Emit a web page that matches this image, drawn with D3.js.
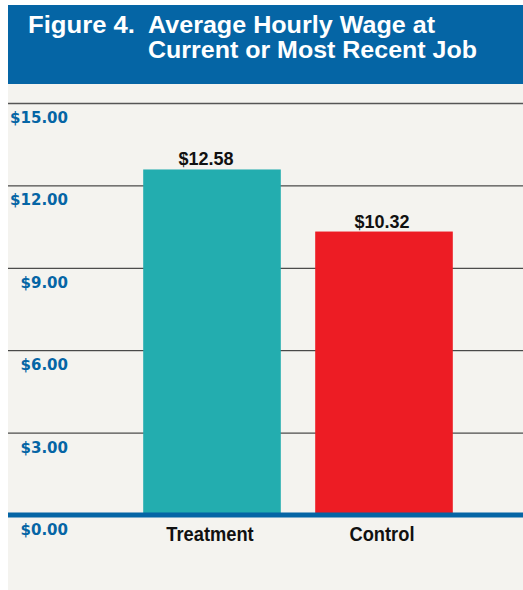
<!DOCTYPE html>
<html>
<head>
<meta charset="utf-8">
<script src="https://cdn.jsdelivr.net/npm/d3@7"></script>
<style>
  body { margin: 0; background: #ffffff; }
</style>
</head>
<body>
<div id="chart"></div>
<script>
// chart data
const CATEGORIES = ["Treatment", "Control"];
const WAGES = [12.58, 10.32];
const TICKS = [0, 3, 6, 9, 12, 15];
const COLORS = ["#23adaf", "#ed1c24"];

// frame and panel
const FRAME_WIDTH = 523;
const FRAME_HEIGHT = 590;
const PANEL = {left: 8, top: 5, right: 523, titleBottom: 84};
const PLOT = {left: 126, right: 470, top: 103, bottom: 515};

const svg = d3.select("#chart")
  .append("svg")
    .attr("width", FRAME_WIDTH)
    .attr("height", FRAME_HEIGHT);

// squeeze text horizontally by a factor (condensed look)
function condense(sel, k) {
  sel.each(function() {
    const w = this.getComputedTextLength();
    d3.select(this)
      .attr("textLength", w * k)
      .attr("lengthAdjust", "spacingAndGlyphs");
  });
}

// beige background
svg.append("rect")
  .attr("x", PANEL.left)
  .attr("y", PANEL.top)
  .attr("width", PANEL.right - PANEL.left)
  .attr("height", FRAME_HEIGHT - PANEL.top)
  .attr("fill", "#f4f3ef");

// title band
svg.append("rect")
  .attr("x", PANEL.left)
  .attr("y", PANEL.top)
  .attr("width", PANEL.right - PANEL.left)
  .attr("height", PANEL.titleBottom - PANEL.top)
  .attr("fill", "#0565a5");

const title = svg.append("g")
  .attr("font-family", "'Liberation Sans', Arial, sans-serif")
  .attr("font-weight", "bold")
  .attr("font-size", "23px")
  .attr("fill", "#ffffff");
title.append("text").attr("x", 28).attr("y", 33)
  .attr("textLength", 107).attr("lengthAdjust", "spacingAndGlyphs")
  .text("Figure 4.");
title.append("text").attr("x", 148).attr("y", 33)
  .attr("textLength", 287).attr("lengthAdjust", "spacingAndGlyphs")
  .text("Average Hourly Wage at");
title.append("text").attr("x", 148).attr("y", 58)
  .attr("textLength", 329).attr("lengthAdjust", "spacingAndGlyphs")
  .text("Current or Most Recent Job");

// scales
const Y = d3.scaleLinear()
  .domain([0, 15])
  .range([PLOT.bottom, PLOT.top]);

const X = d3.scaleBand()
  .domain(CATEGORIES)
  .range([PLOT.left, PLOT.right])
  .paddingInner(0.2)
  .paddingOuter(0.1);

// gridlines + y labels
const yAxis = svg.append("g");
yAxis.selectAll("line")
  .data(TICKS.filter(d => d > 0))
  .enter()
  .append("line")
    .attr("x1", PANEL.left)
    .attr("x2", PANEL.right)
    .attr("y1", d => Y(d) + 0.5)
    .attr("y2", d => Y(d) + 0.5)
    .attr("stroke", d => d === 15 ? "#555" : "#222")
    .attr("stroke-width", d => d === 15 ? 1.5 : 1);

yAxis.selectAll("text")
  .data(TICKS)
  .enter()
  .append("text")
    .attr("x", 68)
    .attr("y", d => Y(d) + 20)
    .attr("text-anchor", "end")
    .attr("font-family", "'DejaVu Sans', Verdana, sans-serif")
    .attr("font-weight", "bold")
    .attr("font-size", "15px")
    .attr("fill", "#0565a5")
    .text(d => "$" + d3.format(".2f")(d));

// bars
svg.selectAll(".bar")
  .data(WAGES)
  .enter()
  .append("rect")
    .attr("class", "bar")
    .attr("x", (d, i) => X(CATEGORIES[i]))
    .attr("y", d => Y(d))
    .attr("width", X.bandwidth())
    .attr("height", d => Y(0) - Y(d))
    .attr("fill", (d, i) => COLORS[i]);

// value labels
svg.selectAll(".value")
  .data(WAGES)
  .enter()
  .append("text")
    .attr("class", "value")
    .attr("x", (d, i) => X(CATEGORIES[i]) + X.bandwidth() / 2 - (i === 0 ? 6 : 2))
    .attr("y", d => Y(d) - 4)
    .attr("text-anchor", "middle")
    .attr("font-family", "'Liberation Sans', Arial, sans-serif")
    .attr("font-weight", "bold")
    .attr("font-size", "18px")
    .attr("fill", "#111")
    .text(d => "$" + d3.format(".2f")(d));

// baseline
svg.append("line")
  .attr("x1", PANEL.left)
  .attr("x2", PANEL.right)
  .attr("y1", Y(0))
  .attr("y2", Y(0))
  .attr("stroke", "#0565a5")
  .attr("stroke-width", 5);

// category labels
svg.selectAll(".cat")
  .data(CATEGORIES)
  .enter()
  .append("text")
    .attr("class", "cat")
    .attr("x", d => X(d) + X.bandwidth() / 2 - 2)
    .attr("y", 541)
    .attr("text-anchor", "middle")
    .attr("font-family", "'Liberation Sans Narrow', 'Liberation Sans', Arial, sans-serif")
    .attr("font-weight", "bold")
    .attr("font-size", "21px")
    .attr("fill", "#111")
    .text(d => d)
    .call(condense, 0.87);
</script>
</body>
</html>
